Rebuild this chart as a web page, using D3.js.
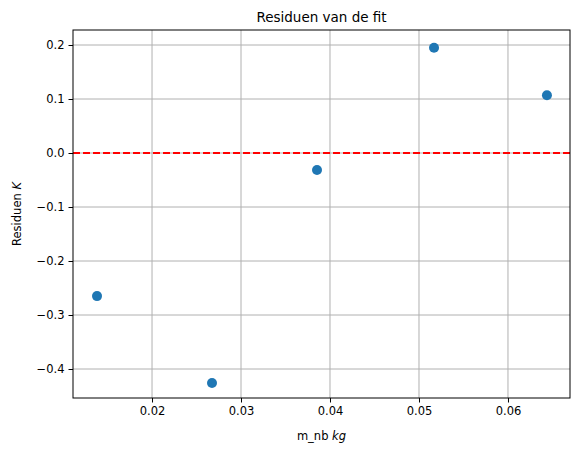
<!DOCTYPE html>
<html>
<head>
<meta charset="utf-8">
<script src="https://cdn.jsdelivr.net/npm/d3@7"></script>
<style>
body{margin:0;background:#fff;font-family:"DejaVu Sans",sans-serif;}
</style>
</head>
<body>
<div id="chart"></div>
<script>
// data
let massValues = [0.01382, 0.02674, 0.03854, 0.05169, 0.06438];
let residuals = [-0.265, -0.426, -0.0315, 0.195, 0.107];
let xTicks = [0.02, 0.03, 0.04, 0.05, 0.06];
let yTicks = [-0.4, -0.3, -0.2, -0.1, 0.0, 0.1, 0.2];

let margin = {top: 30, right: 10, bottom: 58, left: 73};
let width = 580 - margin.left - margin.right;
let height = 456 - margin.top - margin.bottom;

let svg = d3.select("#chart").append("svg")
	.attr("width", 580)
	.attr("height", 456)
	.append("g")
	.attr("transform", "translate(" + margin.left + "," + margin.top + ")");

let x = d3.scaleLinear().domain([0.01112, 0.06697]).range([0, width]);
let y = d3.scaleLinear().domain([-0.4537, 0.2278]).range([height, 0]);

// grid
svg.selectAll(".gx").data(xTicks).enter().append("line")
	.attr("x1", d => x(d)).attr("x2", d => x(d))
	.attr("y1", 0).attr("y2", height)
	.attr("stroke", "#b0b0b0").attr("stroke-width", 1);
svg.selectAll(".gy").data(yTicks).enter().append("line")
	.attr("y1", d => y(d)).attr("y2", d => y(d))
	.attr("x1", 0).attr("x2", width)
	.attr("stroke", "#b0b0b0").attr("stroke-width", 1);

// zero line
svg.append("line")
	.attr("x1", 0).attr("x2", width)
	.attr("y1", y(0)).attr("y2", y(0))
	.attr("stroke", "red").attr("stroke-width", 1.8)
	.attr("stroke-dasharray", "7,3");

// axes
let xAxis = d3.axisBottom(x).tickValues(xTicks).tickFormat(d3.format(".2f")).tickSize(4.5).tickPadding(4);
let yAxis = d3.axisLeft(y).tickValues(yTicks).tickFormat(d3.format(".1f")).tickSize(4.5).tickPadding(4);

svg.append("g").attr("transform", "translate(0," + height + ")").call(xAxis);
svg.append("g").call(yAxis);
svg.selectAll(".domain").remove();
svg.selectAll(".tick text").attr("font-size", 11.5).attr("font-family", "DejaVu Sans").attr("fill", "#000");
svg.selectAll(".tick line").attr("stroke", "#000").attr("stroke-width", 1);

svg.append("rect")
	.attr("width", width).attr("height", height)
	.attr("fill", "none").attr("stroke", "#000").attr("stroke-width", 1);

// points
svg.selectAll(".dot").data(massValues).enter().append("circle")
	.attr("cx", d => x(d))
	.attr("cy", (d, i) => y(residuals[i]))
	.attr("r", 5)
	.attr("fill", "#1f77b4");

// labels
svg.append("text")
	.attr("x", width / 2).attr("y", -8)
	.attr("text-anchor", "middle").attr("font-size", 13.5)
	.text("Residuen van de fit");

let xl = svg.append("text")
	.attr("x", width / 2).attr("y", height + 42)
	.attr("text-anchor", "middle").attr("font-size", 11.5);
xl.append("tspan").text("m_nb ");
xl.append("tspan").attr("font-style", "italic").text("kg");

let yl = svg.append("text")
	.attr("transform", "translate(-52," + (height / 2) + ") rotate(-90)")
	.attr("text-anchor", "middle").attr("font-size", 11.5);
yl.append("tspan").text("Residuen ");
yl.append("tspan").attr("font-style", "italic").text("K");
</script>
</body>
</html>
